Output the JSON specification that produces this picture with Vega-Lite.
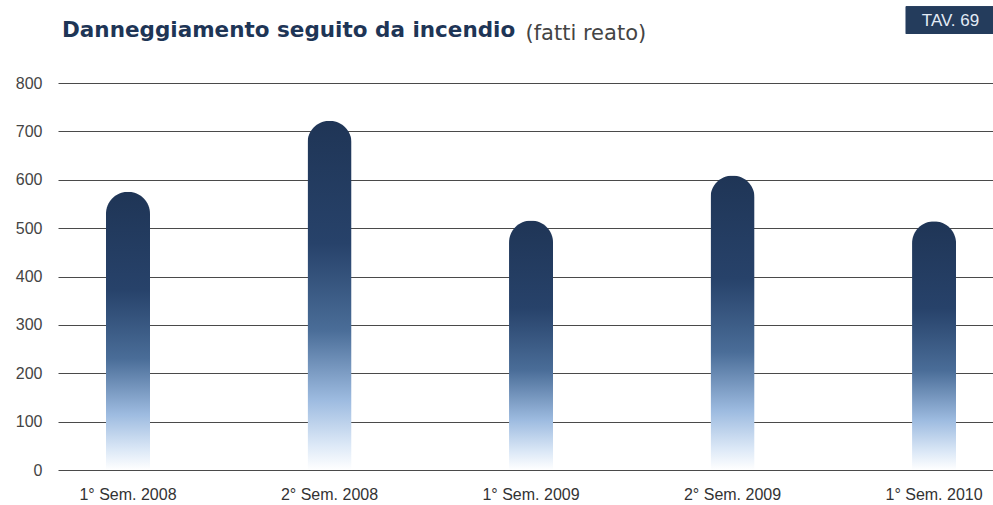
{
  "$schema": "https://vega.github.io/schema/vega-lite/v6.json",
  "width": 935,
  "height": 387,
  "autosize": {"type": "none"},
  "padding": {"left": 58, "top": 83, "right": 0, "bottom": 35},
  "background": "#ffffff",
  "title": {
    "text": "Danneggiamento seguito da incendio",
    "anchor": "start",
    "frame": "group",
    "dx": 4,
    "offset": 0,
    "dy": 52,
    "baseline": "alphabetic",
    "font": "DejaVu Sans",
    "fontSize": 21.5,
    "fontWeight": "bold",
    "color": "#1e3556"
  },
  "config": {
    "view": {"stroke": null},
    "axis": {"labelFont": "Liberation Sans", "titleFont": "Liberation Sans"}
  },
  "data": {
    "values": [
      {"periodo": "1° Sem. 2008", "fatti": 575},
      {"periodo": "2° Sem. 2008", "fatti": 722},
      {"periodo": "1° Sem. 2009", "fatti": 516},
      {"periodo": "2° Sem. 2009", "fatti": 609},
      {"periodo": "1° Sem. 2010", "fatti": 514}
    ]
  },
  "encoding": {
    "x": {
      "field": "periodo",
      "type": "nominal",
      "sort": null,
      "scale": {
        "domain": ["1° Sem. 2008", "2° Sem. 2008", "1° Sem. 2009", "2° Sem. 2009", "1° Sem. 2010"],
        "paddingInner": 0.7816, "paddingOuter": 0.2108, "align": 0.565
      },
      "axis": {
        "title": "TAV. 69",
        "titleX": 892,
        "titleY": -450,
        "titleAlign": "center",
        "titleBaseline": "middle",
        "titleFontSize": 17,
        "titleFontWeight": "normal",
        "titleColor": "#e3ebf5",
        "labelAngle": 0,
        "labelFontSize": 16,
        "labelColor": "#333333",
        "labelPadding": 16,
        "domain": false,
        "ticks": false
      }
    }
  },
  "layer": [
    {
      "mark": {"type": "rect", "color": "#243c5c"},
      "encoding": {
        "x": {"datum": "1° Sem. 2010", "bandPosition": -0.14},
        "x2": {"datum": "1° Sem. 2010", "bandPosition": 1.85},
        "y": {"datum": 958},
        "y2": {"datum": 902}
      }
    },
    {
      "mark": {
        "type": "bar",
        "cornerRadiusTopLeft": 22,
        "cornerRadiusTopRight": 22,
        "color": {
          "gradient": "linear",
          "x1": 0, "y1": 0, "x2": 0, "y2": 1,
          "stops": [
            {"offset": 0, "color": "#1f3556"},
            {"offset": 0.35, "color": "#27426a"},
            {"offset": 0.6, "color": "#4a6d98"},
            {"offset": 0.8, "color": "#9dbbe0"},
            {"offset": 0.93, "color": "#dde9f7"},
            {"offset": 1, "color": "#ffffff"}
          ]
        }
      },
      "encoding": {
        "y": {
          "field": "fatti",
          "type": "quantitative",
          "scale": {"domain": [0, 800]},
          "axis": {
            "values": [0, 100, 200, 300, 400, 500, 600, 700, 800],
            "grid": true,
            "gridColor": "#4a4a4a",
            "gridWidth": 1,
            "gridOpacity": 1,
            "domain": false,
            "ticks": false,
            "labelPadding": 16,
            "labelFontSize": 16,
            "labelColor": "#444444",
            "title": "(fatti reato)",
            "titleFont": "DejaVu Sans",
            "titleAngle": 0,
            "titleAlign": "left",
            "titleBaseline": "alphabetic",
            "titleX": 467,
            "titleY": -44,
            "titleFontSize": 21,
            "titleFontWeight": "normal",
            "titleColor": "#444444"
          }
        }
      }
    },
    {
      "mark": {"type": "rule", "color": "#1a1a1a", "strokeWidth": 3},
      "encoding": {"y": {"datum": 0}}
    }
  ]
}
